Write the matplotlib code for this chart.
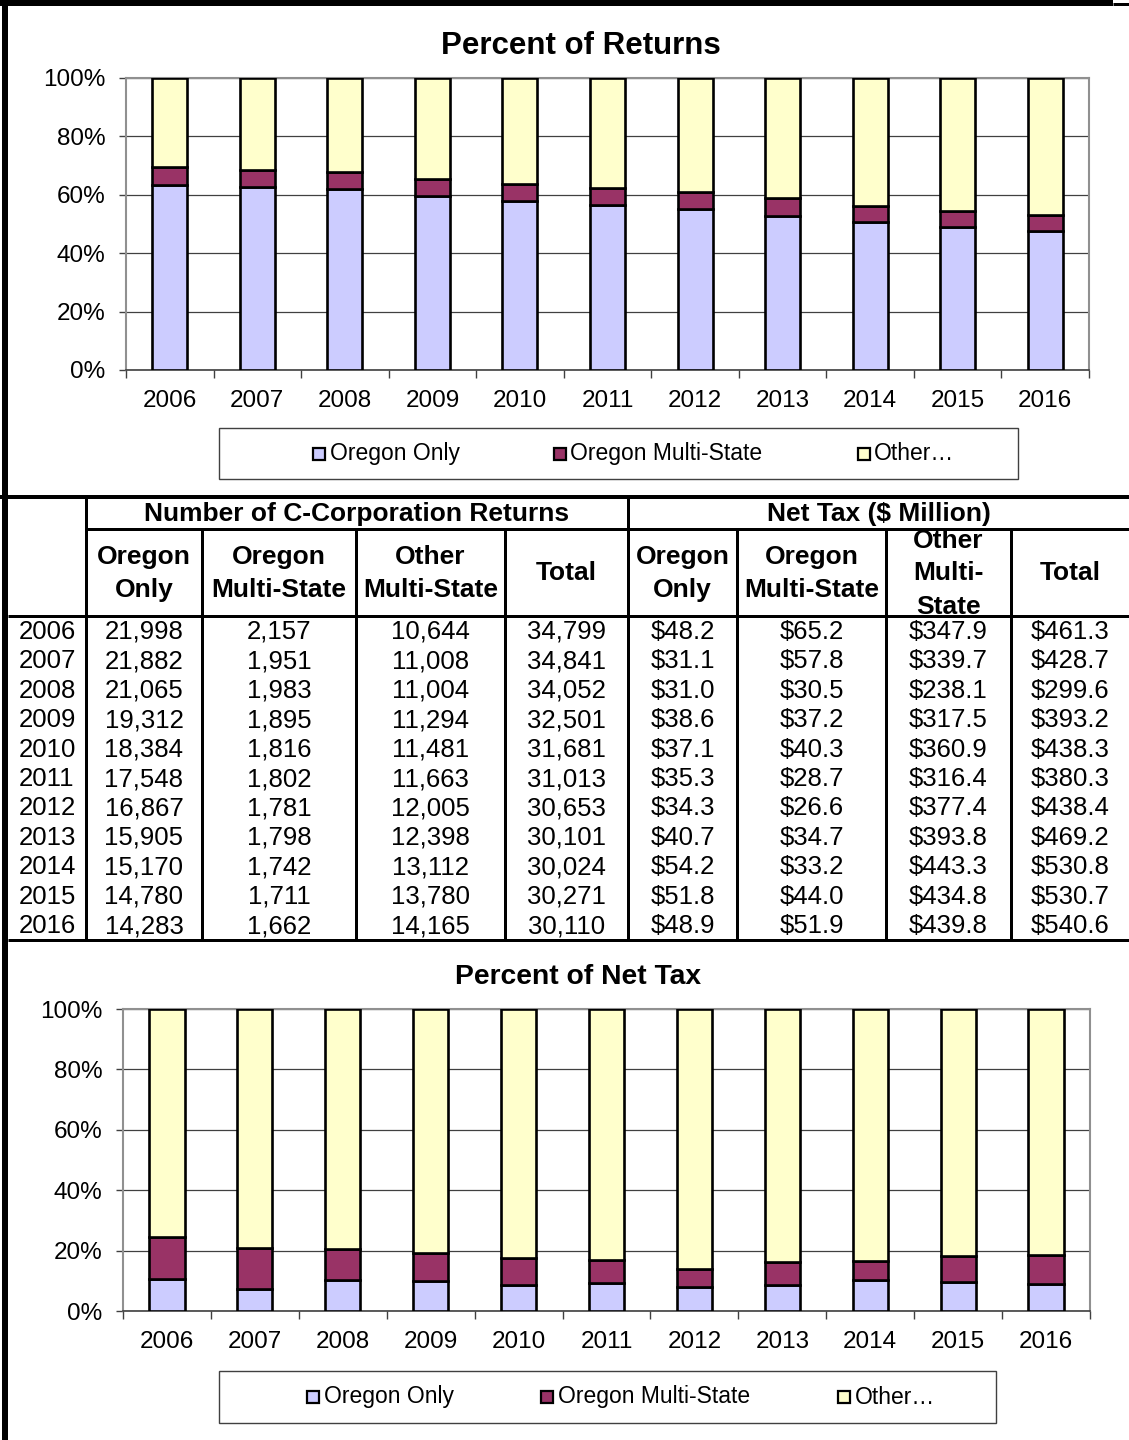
import matplotlib
matplotlib.use('Agg')
import matplotlib.pyplot as plt
from matplotlib.patches import Rectangle
import numpy as np

plt.rcParams['font.family'] = ['Liberation Sans', 'DejaVu Sans']

years = [2006, 2007, 2008, 2009, 2010, 2011, 2012, 2013, 2014, 2015, 2016]

# number of C-corporation returns
ret_or_only = [21998, 21882, 21065, 19312, 18384, 17548, 16867, 15905, 15170, 14780, 14283]
ret_or_multi = [2157, 1951, 1983, 1895, 1816, 1802, 1781, 1798, 1742, 1711, 1662]
ret_other = [10644, 11008, 11004, 11294, 11481, 11663, 12005, 12398, 13112, 13780, 14165]
ret_total = [34799, 34841, 34052, 32501, 31681, 31013, 30653, 30101, 30024, 30271, 30110]

# net tax, $ million
tax_or_only = [48.2, 31.1, 31.0, 38.6, 37.1, 35.3, 34.3, 40.7, 54.2, 51.8, 48.9]
tax_or_multi = [65.2, 57.8, 30.5, 37.2, 40.3, 28.7, 26.6, 34.7, 33.2, 44.0, 51.9]
tax_other = [347.9, 339.7, 238.1, 317.5, 360.9, 316.4, 377.4, 393.8, 443.3, 434.8, 439.8]
tax_total = [461.3, 428.7, 299.6, 393.2, 438.3, 380.3, 438.4, 469.2, 530.8, 530.7, 540.6]

series_labels = ['Oregon Only', 'Oregon Multi-State', 'Other…']
colors = ['#CCCCFF', '#993366', '#FFFFCC']

W, H = 1129, 1440
fig = plt.figure(figsize=(W / 100, H / 100), dpi=100)

# overlay in pixel coords for frame lines, table and legends
bg = fig.add_axes([0, 0, 1, 1])
bg.set_xlim(0, W)
bg.set_ylim(H, 0)
bg.axis('off')

PT = 0.72  # px -> points at 100 dpi


def line(x0, y0, x1, y1, w=3):
    bg.plot([x0, x1], [y0, y1], color='black', lw=w * PT, solid_capstyle='butt')


def px_axes(l, t, r, b):
    return fig.add_axes([l / W, 1 - b / H, (r - l) / W, (b - t) / H])


def draw_chart(ax, parts):
    parts = [np.array(p, dtype=float) for p in parts]
    tot = sum(parts)
    x = np.arange(len(years))
    bottom = np.zeros(len(years))
    for p, c, lab in zip(parts, colors, series_labels):
        pct = p / tot * 100
        ax.bar(x, pct, 0.4, bottom=bottom, color=c, edgecolor='black',
               lw=1.9, zorder=3, label=lab)
        bottom += pct
    ax.set_xlim(-0.5, len(years) - 0.5)
    ax.set_ylim(0, 100)
    ax.set_facecolor('none')
    ax.set_xticks(x)
    ax.set_xticklabels([str(y) for y in years], fontsize=17.5)
    ax.set_xticks(np.arange(-0.5, len(years), 1), minor=True)
    ax.tick_params(axis='x', which='major', length=0, pad=14.5)
    ax.tick_params(axis='x', which='minor', length=6, color='#404040', width=1)
    ax.set_yticks(range(0, 101, 20))
    ax.set_yticklabels([f'{v}%' for v in range(0, 101, 20)], fontsize=17.5)
    ax.tick_params(axis='y', length=5, color='#404040', width=1, pad=10)
    ax.yaxis.grid(True, color='#404040', lw=0.9)
    ax.set_axisbelow(True)
    for s in ax.spines.values():
        s.set_color('#909090')
        s.set_linewidth(1.5)
    ax.spines['bottom'].set_color('#404040')
    ax.spines['bottom'].set_linewidth(1.2)


def draw_legend(x0, y0, x1, y1, sq_x, txt_x):
    bg.add_patch(Rectangle((x0, y0), x1 - x0, y1 - y0, fill=False,
                           edgecolor='#404040', lw=1))
    cy = (y0 + y1) / 2
    for sx, tx, c, lab in zip(sq_x, txt_x, colors, series_labels):
        bg.add_patch(Rectangle((sx, cy - 6), 12, 12, facecolor=c,
                               edgecolor='black', lw=1.6))
        bg.text(tx, cy, lab, fontsize=16.5, va='center', ha='left')


# ---- top chart
ax1 = px_axes(126, 78, 1089, 370)
draw_chart(ax1, [ret_or_only, ret_or_multi, ret_other])
bg.text(581, 46, 'Percent of Returns', fontsize=22.5, fontweight='bold',
        ha='center', va='center')
draw_legend(219, 428, 1018, 479, [313, 554, 858], [330, 570, 874])

# ---- bottom chart
ax2 = px_axes(123, 1009, 1090, 1311)
draw_chart(ax2, [tax_or_only, tax_or_multi, tax_other])
bg.text(578, 977, 'Percent of Net Tax', fontsize=20.3, fontweight='bold',
        ha='center', va='center')
draw_legend(219, 1371, 996, 1423, [307, 541, 838], [324, 558, 855])

# ---- frame
line(0, 3, 1113, 3, 6)
line(1113, 4, W, 4, 3)
line(5, 0, 5, H, 6)

# ---- table
cols = [8, 86, 202, 356, 505, 628, 737, 886, 1011, W]
y_top, y_h1, y_h2, y_bot = 497, 529, 616, 940

line(0, y_top, W, y_top, 4)
line(86, y_h1, W, y_h1, 3)
line(8, y_h2, W, y_h2, 3)
line(8, y_bot, W, y_bot, 3)
for c in cols[1:-1]:
    if c in (86, 628):
        line(c, y_top, c, y_bot, 3)
    else:
        line(c, y_h1, c, y_bot, 3)

bg.text((86 + 628) / 2, (y_top + y_h1) / 2 + 1, 'Number of C-Corporation Returns',
        fontsize=19, fontweight='bold', ha='center', va='center')
bg.text((628 + W) / 2, (y_top + y_h1) / 2 + 1, 'Net Tax ($ Million)',
        fontsize=19, fontweight='bold', ha='center', va='center')

headers = ['Oregon\nOnly', 'Oregon\nMulti-State', 'Other\nMulti-State', 'Total',
           'Oregon\nOnly', 'Oregon\nMulti-State', 'Other\nMulti-\nState', 'Total']
hy = (y_h1 + y_h2) / 2 + 1
for i, h in enumerate(headers):
    l, r = cols[i + 1], cols[i + 2]
    cx = (l + r) / 2
    parts = h.split('\n')
    n = len(parts)
    clip = Rectangle((l, y_h1), r - l, y_h2 - y_h1, transform=bg.transData,
                     fill=False, visible=False)
    bg.add_patch(clip)
    for k, p in enumerate(parts):
        t = bg.text(cx, hy + (k - (n - 1) / 2) * 33, p, fontsize=19,
                    fontweight='bold', ha='center', va='center')
        t.set_clip_path(clip)

row_h = (y_bot - y_h2) / len(years)
table_cols = [
    [str(y) for y in years],
    [f'{v:,}' for v in ret_or_only],
    [f'{v:,}' for v in ret_or_multi],
    [f'{v:,}' for v in ret_other],
    [f'{v:,}' for v in ret_total],
    [f'${v:.1f}' for v in tax_or_only],
    [f'${v:.1f}' for v in tax_or_multi],
    [f'${v:.1f}' for v in tax_other],
    [f'${v:.1f}' for v in tax_total],
]
for j, colvals in enumerate(table_cols):
    cx = (cols[j] + cols[j + 1]) / 2
    for i, s in enumerate(colvals):
        bg.text(cx, y_h2 + (i + 0.5) * row_h + 1, s, fontsize=18.5,
                ha='center', va='center')

fig.savefig('out.png', dpi=100)
